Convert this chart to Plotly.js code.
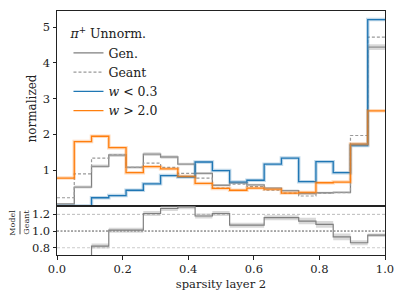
<!DOCTYPE html>
<html><head><meta charset="utf-8">
<script src="https://cdn.plot.ly/plotly-3.0.1.min.js"></script>
<style>html,body{margin:0;padding:0;background:#fff}#plot{width:399px;height:299px}</style>
</head><body><div id="plot"></div>
<script>
// bin edges of sparsity layer 2 (19 bins)
const edges = [0, 0.05263, 0.10526, 0.15789, 0.21053, 0.26316, 0.31579, 0.36842, 0.42105, 0.47368,
               0.52632, 0.57895, 0.63158, 0.68421, 0.73684, 0.78947, 0.84211, 0.89474, 0.94737, 1.0];
const genVals    = [0.06, 0.53, 1.11, 1.42, 1.08, 1.45, 1.37, 1.17, 0.91, 0.58, 0.65, 0.59, 0.50, 0.43, 0.35, 0.37, 0.38, 1.72, 4.44];
const genErr     = [0.02, 0.04, 0.05, 0.05, 0.04, 0.05, 0.05, 0.04, 0.04, 0.03, 0.03, 0.03, 0.03, 0.03, 0.03, 0.03, 0.03, 0.05, 0.08];
const geantVals  = [0.23, 0.90, 1.34, 1.44, 1.08, 1.20, 1.08, 0.91, 0.78, 0.50, 0.61, 0.54, 0.44, 0.36, 0.28, 0.35, 0.37, 1.97, 4.72];
const lowWVals   = [0.00, 0.00, 0.23, 0.29, 0.44, 0.62, 0.85, 0.81, 1.23, 0.99, 0.67, 0.72, 1.17, 1.34, 0.68, 1.24, 0.93, 1.69, 5.21];
const highWVals  = [0.78, 1.80, 1.95, 1.63, 0.93, 1.10, 1.04, 0.83, 0.63, 0.49, 0.44, 0.50, 0.47, 0.36, 0.38, 0.65, 0.67, 1.73, 2.66];
const ratioVals  = [0.26, 0.59, 0.82, 1.01, 1.01, 1.21, 1.27, 1.29, 1.18, 1.21, 1.07, 1.07, 1.16, 1.16, 1.12, 1.08, 0.93, 0.86, 0.95];
const ratioErr   = [0.03, 0.03, 0.03, 0.03, 0.03, 0.03, 0.03, 0.03, 0.03, 0.03, 0.03, 0.03, 0.03, 0.03, 0.04, 0.04, 0.04, 0.03, 0.02];
const legendNames = ['Gen.', 'Geant', '<i>w</i> < 0.3', '<i>w</i> > 2.0'];

function stepY(v){ return v.concat([v[v.length-1]]); }
function shift(v, e, s){ return v.map((a,i)=>a + s*e[i]); }

const FONT = 'DejaVu Serif, serif';
const BLUE = '#1f77b4', ORANGE = '#ff7f0e';

const traces = [
  {x: edges, y: stepY(genVals), mode:'lines', name: legendNames[0], line:{shape:'hv', width:1.3, color:'#7f7f7f'}, xaxis:'x', yaxis:'y'},
  {x: edges, y: stepY(geantVals), mode:'lines', name: legendNames[1], line:{shape:'hv', width:1.2, color:'#999999', dash:'3px,2px'}, xaxis:'x', yaxis:'y'},
  {x: edges, y: stepY(lowWVals), mode:'lines', name: legendNames[2], line:{shape:'hv', width:1.3, color:BLUE}, xaxis:'x', yaxis:'y'},
  {x: edges, y: stepY(highWVals), mode:'lines', name: legendNames[3], line:{shape:'hv', width:1.3, color:ORANGE}, xaxis:'x', yaxis:'y'},
  // gen band
  {x: edges, y: stepY(shift(genVals, genErr, -1)), mode:'lines', line:{shape:'hv', width:0, color:'rgba(0,0,0,0)'}, showlegend:false, hoverinfo:'skip', xaxis:'x', yaxis:'y'},
  {x: edges, y: stepY(shift(genVals, genErr, 1)), mode:'lines', line:{shape:'hv', width:0, color:'rgba(0,0,0,0)'}, fill:'tonexty', fillcolor:'rgba(170,170,170,0.45)', showlegend:false, hoverinfo:'skip', xaxis:'x', yaxis:'y'},
  // halos
  {x: edges, y: stepY(lowWVals), mode:'lines', line:{shape:'hv', width:3.5, color:'rgba(31,119,180,0.28)'}, showlegend:false, hoverinfo:'skip', xaxis:'x', yaxis:'y'},
  {x: edges, y: stepY(highWVals), mode:'lines', line:{shape:'hv', width:3.5, color:'rgba(255,127,14,0.28)'}, showlegend:false, hoverinfo:'skip', xaxis:'x', yaxis:'y'},
  // ratio
  {x: edges, y: stepY(shift(ratioVals, ratioErr, -1)), mode:'lines', line:{shape:'hv', width:0, color:'rgba(0,0,0,0)'}, showlegend:false, hoverinfo:'skip', xaxis:'x2', yaxis:'y2'},
  {x: edges, y: stepY(shift(ratioVals, ratioErr, 1)), mode:'lines', line:{shape:'hv', width:0, color:'rgba(0,0,0,0)'}, fill:'tonexty', fillcolor:'rgba(170,170,170,0.45)', showlegend:false, hoverinfo:'skip', xaxis:'x2', yaxis:'y2'},
  {x: edges, y: stepY(ratioVals), mode:'lines', line:{shape:'hv', width:1.2, color:'#7f7f7f'}, showlegend:false, xaxis:'x2', yaxis:'y2'}
];

const split = 49/244;
const axCommon = {showline:true, mirror:true, linecolor:'#222', linewidth:1, ticks:'outside', ticklen:3.5, tickcolor:'#222', tickwidth:1, showgrid:false, zeroline:false, tickfont:{family:FONT, size:11.5, color:'#222'}};

const layout = {
  width:399, height:299,
  margin:{l:57, r:14, t:11, b:44},
  paper_bgcolor:'#fff', plot_bgcolor:'#fff',
  showlegend:true,
  legend:{x:0.035, y:0.955, xanchor:'left', yanchor:'top', bgcolor:'rgba(255,255,255,0)', borderwidth:0, traceorder:'normal',
          font:{family:FONT, size:12.5, color:'#222'}, tracegroupgap:0,
          title:{text:'<i>π</i><sup>+</sup> Unnorm.', font:{family:FONT, size:12.5, color:'#222'}}},
  xaxis: Object.assign({}, axCommon, {domain:[0,1], range:[0,1], anchor:'y', showticklabels:false, ticks:''}),
  yaxis: Object.assign({}, axCommon, {domain:[split,1], range:[0,5.45], tickvals:[1,2,3,4,5], anchor:'x',
          title:{text:'normalized', font:{family:FONT, size:12, color:'#222'}, standoff:3}}),
  xaxis2: Object.assign({}, axCommon, {domain:[0,1], range:[0,1], anchor:'y2', matches:'x', tickvals:[0,0.2,0.4,0.6,0.8,1.0], tickformat:'.1f',
          title:{text:'sparsity layer 2', font:{family:FONT, size:11.5, color:'#222'}, standoff:4}}),
  yaxis2: Object.assign({}, axCommon, {domain:[0,split], range:[0.713,1.3], tickvals:[0.8,1.0,1.2], tickformat:'.1f', anchor:'x2'}),
  shapes:[
    {type:'line', xref:'x2', yref:'y2', x0:0, x1:1, y0:1.2, y1:1.2, line:{color:'#bbbbbb', width:1, dash:'3px,2px'}, layer:'below'},
    {type:'line', xref:'x2', yref:'y2', x0:0, x1:1, y0:1.0, y1:1.0, line:{color:'#555555', width:1, dash:'2px,1.5px'}, layer:'below'},
    {type:'line', xref:'x2', yref:'y2', x0:0, x1:1, y0:0.8, y1:0.8, line:{color:'#cccccc', width:1, dash:'3px,2px'}, layer:'below'},
    {type:'line', xref:'paper', yref:'paper', x0:-0.1128, x1:-0.1128, y0:0.085, y1:0.18, line:{color:'#222', width:0.8}}
  ],
  annotations:[
    {xref:'paper', yref:'paper', x:-0.1128, y:0.1325, xanchor:'right', yanchor:'middle', xshift:-0.5, text:'Model', textangle:-90, showarrow:false, font:{family:FONT, size:8, color:'#222'}},
    {xref:'paper', yref:'paper', x:-0.1128, y:0.1325, xanchor:'left', yanchor:'middle', xshift:0.5, text:'Geant', textangle:-90, showarrow:false, font:{family:FONT, size:8, color:'#222'}}
  ]
};

Plotly.newPlot('plot', traces, layout, {staticPlot:true, displayModeBar:false});
</script></body></html>
